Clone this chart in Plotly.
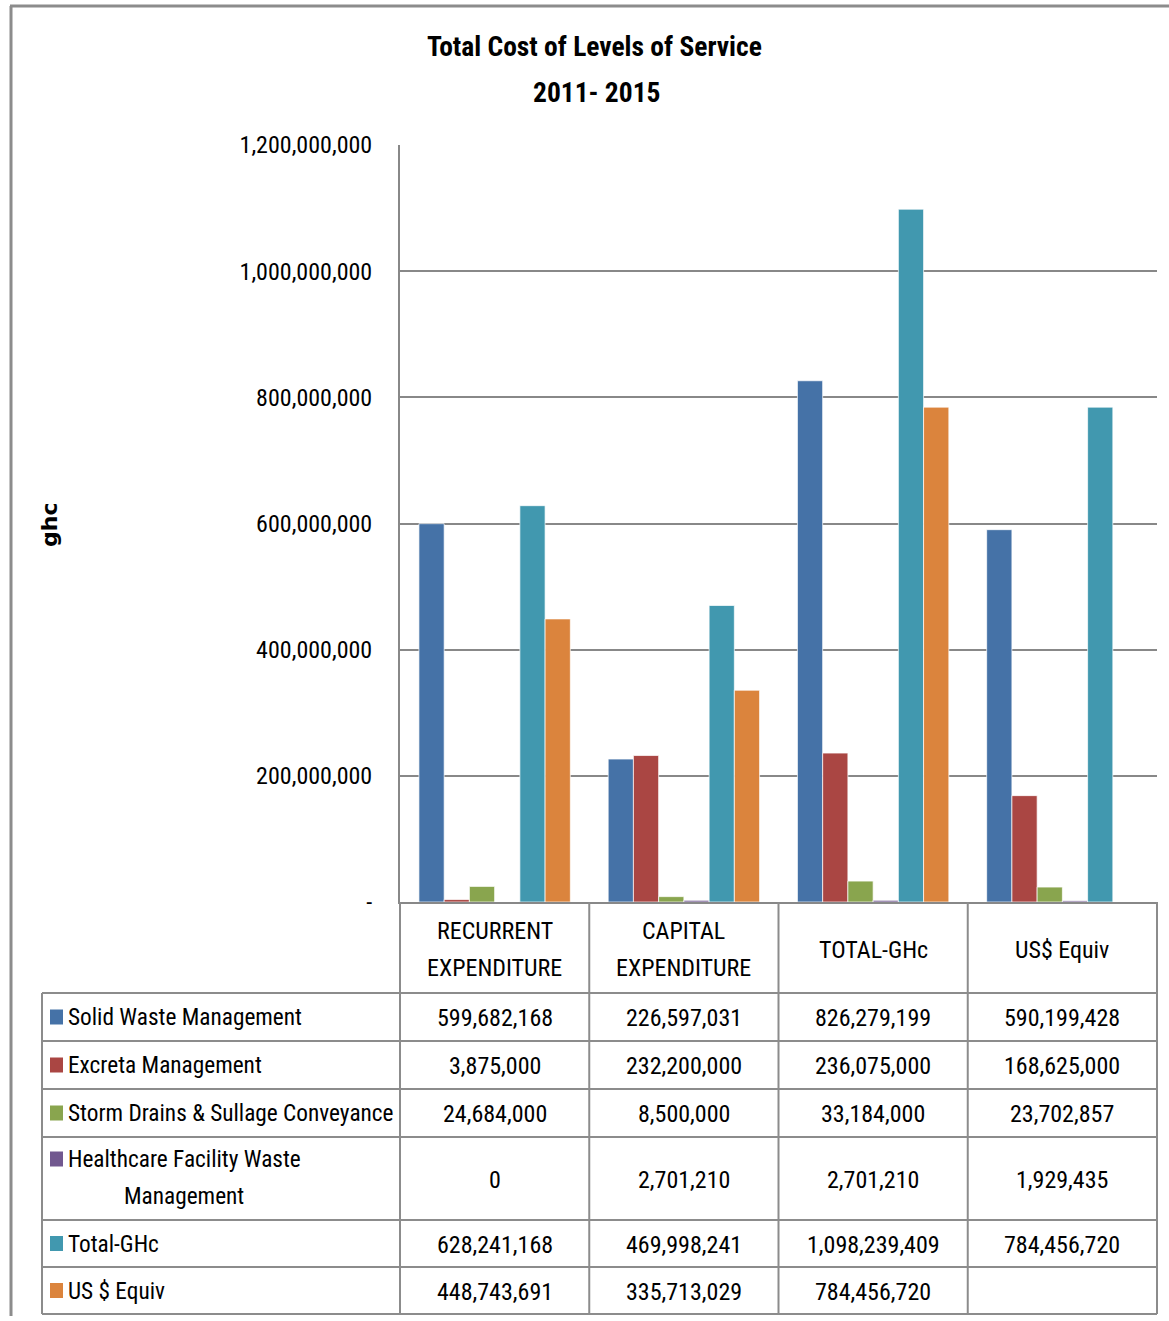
import plotly.graph_objects as go

# ---- data ----
categories = ["RECURRENT<br>EXPENDITURE", "CAPITAL<br>EXPENDITURE", "TOTAL-GHc", "US$ Equiv"]
series_names = [
    "Solid Waste Management",
    "Excreta Management",
    "Storm Drains & Sullage Conveyance",
    "Healthcare Facility Waste<br>Management",
    "Total-GHc",
    "US $ Equiv",
]
solid_waste = [599682168, 226597031, 826279199, 590199428]
excreta = [3875000, 232200000, 236075000, 168625000]
storm_drains = [24684000, 8500000, 33184000, 23702857]
healthcare = [0, 2701210, 2701210, 1929435]
total_ghc = [628241168, 469998241, 1098239409, 784456720]
us_equiv = [448743691, 335713029, 784456720, None]
series_values = [solid_waste, excreta, storm_drains, healthcare, total_ghc, us_equiv]

y_ticks = [0, 200000000, 400000000, 600000000, 800000000, 1000000000, 1200000000]
y_tick_labels = ["-" if v == 0 else f"{v:,}" for v in y_ticks]

colors = ["#4572A7", "#AA4643", "#89A54E", "#71588F", "#4198AF", "#DB843D"]

# ---- layout geometry (page pixels) ----
W = 1169
FIG_H = 1316             # figure height
PLOT_X0, PLOT_X1 = 400, 1157
PLOT_Y0, PLOT_Y1 = 145, 902          # top, bottom of the plot area
TABLE_LEFT = 42
HEADER_BOTTOM = 993
ROW_HEIGHTS = [48, 48, 48, 83, 47, 47]
LINE_STEP = 37                       # spacing of two-line cell texts

FONT = "Roboto Condensed, Liberation Sans Narrow, Arial Narrow, Roboto, sans-serif"
GRID = "#888888"


def fx(px):
    return px / W


def fy(py):
    return 1 - py / FIG_H


fig = go.Figure()

x_idx = list(range(len(categories)))
for name, vals, col in zip(series_names, series_values, colors):
    fig.add_trace(go.Bar(
        x=x_idx, y=vals, name=name.replace("<br>", " "),
        marker=dict(color=col, line=dict(color="rgba(255,255,255,0.7)", width=1)),
    ))

shapes = []
annotations = []


def add_text(px, py, text, font, xanchor="center"):
    """Place text at page pixel coordinates; multi-line text gets one line each."""
    lines = text.split("<br>")
    start = py - LINE_STEP * (len(lines) - 1) / 2
    for k, ln in enumerate(lines):
        annotations.append(dict(x=fx(px), y=fy(start + k * LINE_STEP), xref="paper", yref="paper",
                                text=ln, showarrow=False, font=font,
                                xanchor=xanchor, yanchor="middle"))


# outer chart frame
frame_top = 6
shapes.append(dict(type="line", xref="paper", yref="paper", x0=fx(10), x1=fx(W), y0=fy(frame_top),
                   y1=fy(frame_top), line=dict(color="#8c8c8c", width=3)))
shapes.append(dict(type="line", xref="paper", yref="paper", x0=fx(11), x1=fx(11), y0=fy(frame_top),
                   y1=0, line=dict(color="#8c8c8c", width=3)))

# data table under the plot
col_w = (PLOT_X1 - PLOT_X0) / len(categories)
col_edges = [PLOT_X0 + i * col_w for i in range(len(categories) + 1)]
row_edges = [HEADER_BOTTOM]
for h in ROW_HEIGHTS:
    row_edges.append(row_edges[-1] + h)
TABLE_BOTTOM = row_edges[-1]

line_style = dict(color="#8c8c8c", width=2)
for xe in col_edges:
    shapes.append(dict(type="line", xref="paper", yref="paper", x0=fx(xe), x1=fx(xe),
                       y0=fy(PLOT_Y1), y1=fy(TABLE_BOTTOM), line=line_style))
shapes.append(dict(type="line", xref="paper", yref="paper", x0=fx(TABLE_LEFT), x1=fx(TABLE_LEFT),
                   y0=fy(HEADER_BOTTOM), y1=fy(TABLE_BOTTOM), line=line_style))
for ye in row_edges:
    shapes.append(dict(type="line", xref="paper", yref="paper", x0=fx(TABLE_LEFT), x1=fx(PLOT_X1),
                       y0=fy(ye), y1=fy(ye), line=line_style))

cell_font = dict(family=FONT, size=24, color="#000")
label_font = dict(family=FONT, size=23.3, color="#000")

# column headers
for i, cat in enumerate(categories):
    cx = (col_edges[i] + col_edges[i + 1]) / 2
    add_text(cx, (PLOT_Y1 + HEADER_BOTTOM) / 2 + 2, cat, cell_font)

# series rows: legend key, label, values
for r, (name, vals, col) in enumerate(zip(series_names, series_values, colors)):
    top, bot = row_edges[r], row_edges[r + 1]
    cy = (top + bot) / 2
    if "<br>" in name:
        first, second = name.split("<br>")
        key_y = top + 22
        add_text(66, key_y, first, label_font, xanchor="left")
        add_text(184, key_y + LINE_STEP, second, label_font)
    else:
        key_y = cy
        add_text(66, cy, name, label_font, xanchor="left")
    shapes.append(dict(type="rect", xref="paper", yref="paper", x0=fx(50), x1=fx(63),
                       y0=fy(key_y - 7.5), y1=fy(key_y + 7.5), fillcolor=col, line=dict(width=0)))
    for i, v in enumerate(vals):
        if v is None:
            continue
        cx = (col_edges[i] + col_edges[i + 1]) / 2
        add_text(cx, cy + 1, f"{v:,}", cell_font)

# title
title_font = dict(family=FONT, size=27.5, color="#000", weight="bold")
add_text(594, 47, "Total Cost of Levels of Service", title_font)
add_text(596, 92, "2011- 2015", title_font)

# y-axis title
annotations.append(dict(x=fx(49), y=fy(525), xref="paper", yref="paper", text="ghc",
                        showarrow=False, textangle=-90,
                        font=dict(family="DejaVu Sans", size=22, color="#000", weight="bold"),
                        xanchor="center", yanchor="middle"))

fig.update_layout(
    width=W, height=FIG_H,
    margin=dict(l=0, r=0, t=0, b=0),
    paper_bgcolor="white", plot_bgcolor="white",
    barmode="group", bargap=0.2, bargroupgap=0,
    showlegend=False,
    shapes=shapes, annotations=annotations,
    xaxis=dict(domain=[fx(PLOT_X0), fx(PLOT_X1)], range=[-0.5, len(categories) - 0.5],
               showticklabels=False, showgrid=False, zeroline=False, automargin=False,
               showline=True, linecolor=GRID, linewidth=2, ticks=""),
    yaxis=dict(domain=[fy(PLOT_Y1), fy(PLOT_Y0)], range=[0, 1200000000],
               tickvals=y_ticks, ticktext=y_tick_labels,
               tickfont=dict(family=FONT, size=24, color="#000"),
               ticks="", ticklabelstandoff=21, automargin=False,
               showgrid=True, gridcolor=GRID, gridwidth=2, zeroline=False,
               showline=True, linecolor=GRID, linewidth=2),
)

fig.write_html("out.html")
